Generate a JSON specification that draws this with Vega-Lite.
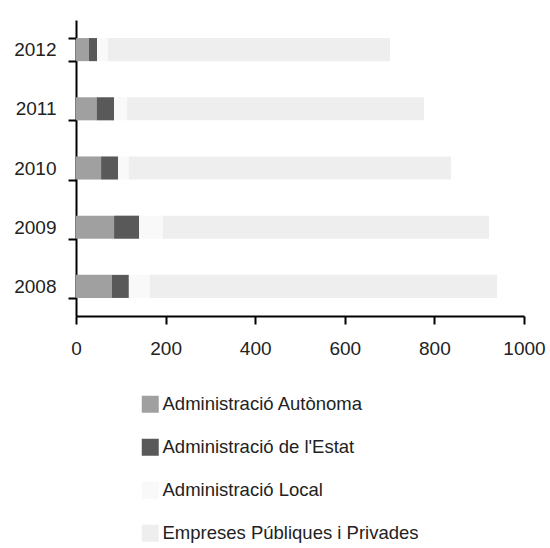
{
  "$schema": "https://vega.github.io/schema/vega-lite/v6.json",
  "autosize": {"type": "none"},
  "width": 448,
  "height": 296,
  "padding": {"left": 76, "top": 20, "right": 26, "bottom": 232},
  "background": "white",
  "config": {"view": {"stroke": null}},
  "data": {"values": [
    {"year": "2012", "cat": "Administració Autònoma", "k": 1, "value": 29},
    {"year": "2012", "cat": "Administració de l'Estat", "k": 2, "value": 18},
    {"year": "2012", "cat": "Administració Local", "k": 3, "value": 24},
    {"year": "2012", "cat": "Empreses Públiques i Privades", "k": 4, "value": 630},
    {"year": "2011", "cat": "Administració Autònoma", "k": 1, "value": 46},
    {"year": "2011", "cat": "Administració de l'Estat", "k": 2, "value": 39},
    {"year": "2011", "cat": "Administració Local", "k": 3, "value": 29},
    {"year": "2011", "cat": "Empreses Públiques i Privades", "k": 4, "value": 663},
    {"year": "2010", "cat": "Administració Autònoma", "k": 1, "value": 56},
    {"year": "2010", "cat": "Administració de l'Estat", "k": 2, "value": 38},
    {"year": "2010", "cat": "Administració Local", "k": 3, "value": 24},
    {"year": "2010", "cat": "Empreses Públiques i Privades", "k": 4, "value": 719},
    {"year": "2009", "cat": "Administració Autònoma", "k": 1, "value": 85},
    {"year": "2009", "cat": "Administració de l'Estat", "k": 2, "value": 56},
    {"year": "2009", "cat": "Administració Local", "k": 3, "value": 53},
    {"year": "2009", "cat": "Empreses Públiques i Privades", "k": 4, "value": 728},
    {"year": "2008", "cat": "Administració Autònoma", "k": 1, "value": 80},
    {"year": "2008", "cat": "Administració de l'Estat", "k": 2, "value": 38},
    {"year": "2008", "cat": "Administració Local", "k": 3, "value": 47},
    {"year": "2008", "cat": "Empreses Públiques i Privades", "k": 4, "value": 775}
  ]},
  "mark": {"type": "bar"},
  "encoding": {
    "y": {
      "field": "year", "type": "nominal", "sort": "descending",
      "scale": {"paddingInner": 0.61, "paddingOuter": 0.305},
      "axis": {
        "title": null, "tickBand": "extent", "tickSize": 8, "tickWidth": 2, "tickColor": "#000",
        "domainWidth": 2, "domainColor": "#000", "labelPadding": 12,
        "labelFont": "Liberation Sans", "labelFontSize": 19, "labelColor": "#222", "grid": false
      }
    },
    "x": {
      "field": "value", "type": "quantitative", "stack": "zero",
      "scale": {"domain": [0, 1000], "nice": false},
      "axis": {
        "title": null, "values": [0, 200, 400, 600, 800, 1000], "format": "d", "tickSize": 8, "tickWidth": 2, "tickColor": "#000",
        "domainWidth": 2, "domainColor": "#000", "labelPadding": 15, "grid": false,
        "labelFont": "Liberation Sans", "labelFontSize": 19, "labelColor": "#222", "labelFlush": false
      }
    },
    "color": {
      "field": "cat", "type": "nominal",
      "scale": {
        "domain": ["Administració Autònoma", "Administració de l'Estat", "Administració Local", "Empreses Públiques i Privades"],
        "range": ["#A0A0A0", "#595959", "#F9F9F9", "#EEEEEE"]
      },
      "legend": {
        "title": null, "orient": "none", "legendX": 65, "legendY": 375, "direction": "vertical",
        "symbolType": "square", "symbolSize": 289, "symbolStrokeWidth": 0, "symbolOpacity": 1,
        "labelFont": "Liberation Sans", "labelFontSize": 18.5, "labelColor": "#222", "labelOffset": 3,
        "rowPadding": 24, "padding": 0, "labelLimit": 400
      }
    },
    "order": {"field": "k", "type": "quantitative"}
  }
}
